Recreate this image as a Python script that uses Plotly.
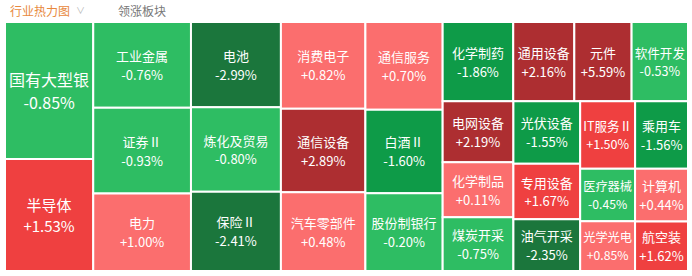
import plotly.graph_objects as go

# ---- data ----
names = [
    "国有大型银", "半导体",
    "工业金属", "证券Ⅱ", "电力",
    "电池", "炼化及贸易", "保险Ⅱ",
    "消费电子", "通信设备", "汽车零部件",
    "通信服务", "白酒Ⅱ", "股份制银行",
    "化学制药", "通用设备", "元件", "软件开发",
    "电网设备", "化学制品", "煤炭开采",
    "光伏设备", "专用设备", "油气开采",
    "IT服务Ⅱ", "乘用车",
    "医疗器械", "光学光电", "计算机", "航空装",
]
changes = [
    -0.85, 1.53,
    -0.76, -0.93, 1.00,
    -2.99, -0.80, -2.41,
    0.82, 2.89, 0.48,
    0.70, -1.60, -0.20,
    -1.86, 2.16, 5.59, -0.53,
    2.19, 0.11, -0.75,
    -1.55, 1.67, -2.35,
    1.50, -1.56,
    -0.45, 0.85, 0.44, 1.62,
]
weights = [
    12062, 9861,
    8355, 8355, 7568,
    7658, 7568, 7118,
    7308, 7053, 6628,
    6757, 6450, 5990,
    5580, 4830, 4530, 4460,
    4300, 3880, 3800,
    4159, 3704, 3444,
    3700, 3560,
    2880, 2720, 2780, 2620,
]
font_sizes = [16, 15] + [13] * (len(names) - 2)


def color_for(p):
    if p >= 2:
        return "#ad2e31"
    if p >= 1.5:
        return "#ef4040"
    if p >= 0:
        return "#fb6e6e"
    if p > -1:
        return "#2ebd63"
    if p > -2:
        return "#0e9b48"
    return "#1b763c"


colors = [color_for(p) for p in changes]
pct_text = [f"{p:+.2f}%" for p in changes]

# line spacing like the reference (~1.46em): base size larger, glyphs set by spans
templates = [
    f"<span style='font-size:{fs}px'>%{{label}}</span><br>"
    f"<span style='font-size:{fs}px'>%{{text}}</span>"
    for fs in font_sizes
]
base_sizes = [round(fs * 1.46 / 1.3, 1) for fs in font_sizes]

FONT = "Noto Sans CJK SC"

fig = go.Figure(
    go.Treemap(
        labels=names,
        parents=[""] * len(names),
        values=weights,
        text=pct_text,
        texttemplate=templates,
        textposition="middle center",
        textfont=dict(family=FONT, color="white", size=base_sizes),
        marker=dict(
            colors=colors,
            line=dict(color="white", width=2),
            pad=dict(t=0, l=0, r=0, b=0),
        ),
        sort=False,
        tiling=dict(packing="squarify", squarifyratio=1, pad=0),
        pathbar=dict(visible=False),
        root=dict(color="white"),
        hoverinfo="skip",
    )
)

W, H = 692, 276
ML, MR, MT, MB = 5, 4, 22, 5
pw, ph = W - ML - MR, H - MT - MB


def px_x(x):
    return (x - ML) / pw


def px_y(y):
    return 1 + (MT - y) / ph


fig.update_layout(
    width=W,
    height=H,
    margin=dict(l=ML, r=MR, t=MT, b=MB),
    paper_bgcolor="white",
    plot_bgcolor="white",
    font=dict(family=FONT),
    annotations=[
        dict(text="行业热力图", x=px_x(8), y=px_y(10), xref="paper", yref="paper",
             xanchor="left", yanchor="middle", showarrow=False,
             font=dict(family=FONT, size=12, color="#e8893d")),
        dict(text="∨", x=px_x(74), y=px_y(10), xref="paper", yref="paper",
             xanchor="left", yanchor="middle", showarrow=False,
             font=dict(family=FONT, size=9, color="#b5b5b5")),
        dict(text="领涨板块", x=px_x(116), y=px_y(10), xref="paper", yref="paper",
             xanchor="left", yanchor="middle", showarrow=False,
             font=dict(family=FONT, size=12, color="#777777")),
    ],
)

fig.write_html("out.html")
